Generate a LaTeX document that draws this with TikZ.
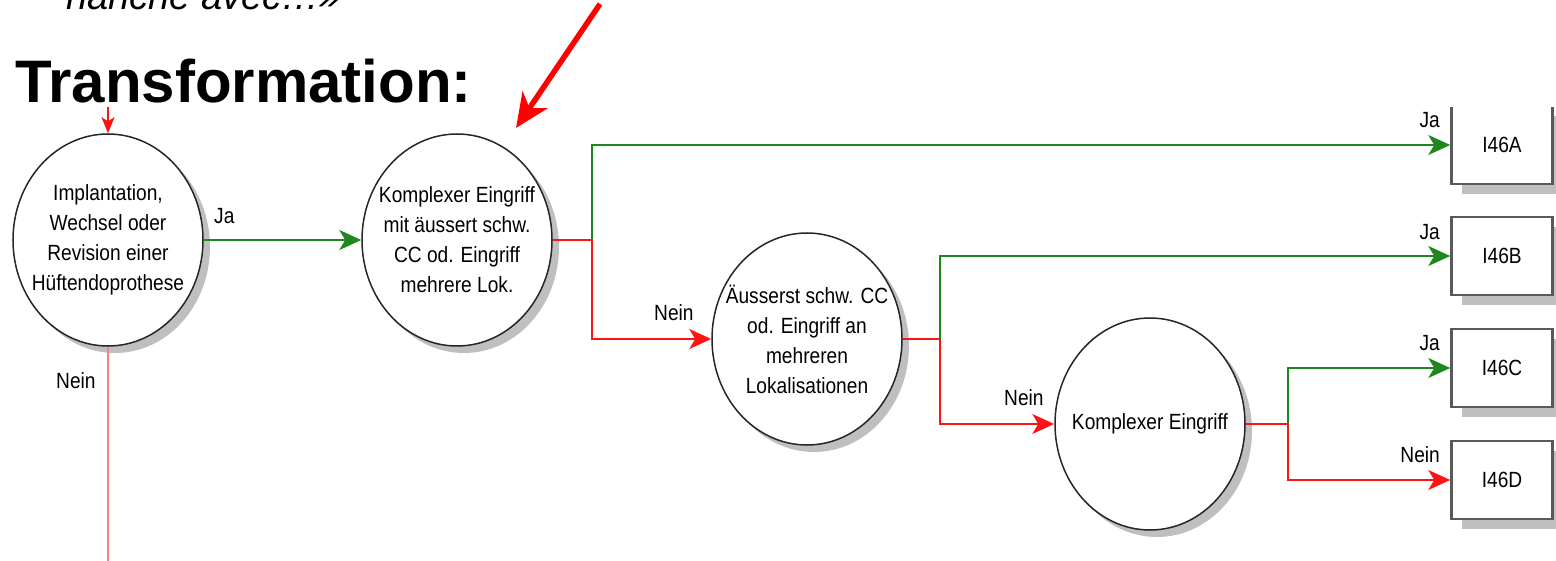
\documentclass[tikz,border=0pt]{standalone}
\usepackage{fontspec}
\setmainfont{Liberation Sans}
\newfontfamily\flowfont[FakeStretch=0.87]{Liberation Sans}
\usetikzlibrary{arrows.meta,shadows,shapes.geometric}

\definecolor{flowgreen}{RGB}{30,135,30}
\definecolor{flowred}{RGB}{255,20,20}
\definecolor{softred}{RGB}{255,125,125}
\definecolor{boxedge}{RGB}{90,90,90}

\begin{document}
\begin{tikzpicture}[x=1pt,y=-1pt,
  decision/.style={ellipse, draw=black!85, line width=1.5pt, fill=white,
    minimum width=190pt, minimum height=212pt, inner sep=-30pt, align=center,
    font=\flowfont\fontsize{22}{30}\selectfont,
    drop shadow={shadow xshift=7pt, shadow yshift=-7pt, fill=black!25, opacity=1}},
  result/.style={rectangle, draw=boxedge, line width=2.5pt, fill=white,
    minimum width=101pt, minimum height=78pt, inner sep=0pt,
    font=\flowfont\fontsize{22}{26}\selectfont,
    drop shadow={shadow xshift=10pt, shadow yshift=-10pt, fill=black!25, opacity=1}},
  tip/.style={-{Stealth[length=22pt,width=20pt,inset=6pt]}},
  yes/.style={draw=flowgreen, line width=1.8pt},
  no/.style={draw=flowred, line width=1.8pt},
  lbl/.style={font=\flowfont\fontsize{22}{26}\selectfont, inner sep=0pt},
]
\useasboundingbox (0,0) rectangle (1556,561);

% ---------- flow chart ----------
\begin{scope}
\clip (0,108) rectangle (1556,561);

\node[decision] (c1) at (108,240) {Implantation,\\Wechsel oder\\Revision einer\\Hüftendoprothese};
\node[decision] (c2) at (457,240) {Komplexer Eingriff\\mit äussert schw.\\CC od. Eingriff\\mehrere Lok.};
\node[decision] (c3) at (807,339) {Äusserst schw. CC\\od. Eingriff an\\mehreren\\Lokalisationen};
\node[decision] (c4) at (1150,424) {Komplexer Eingriff};

\node[result] (A) at (1502,145) {I46A};
\node[result] (B) at (1502,256) {I46B};
\node[result] (C) at (1502,368) {I46C};
\node[result] (D) at (1502,480) {I46D};

% junctions of the branches
\coordinate (j2) at (592,240);
\coordinate (j3) at (940,339);
\coordinate (j4) at (1288,424);
\coordinate (top) at (108,104);
\coordinate (bottom) at (108,565);

% incoming arrow and the "Nein" exit of the first decision
\draw[draw=flowred, line width=1.6pt, -{Stealth[length=16pt,width=13pt,inset=4pt]}] (top) -- (c1.north);
\draw[draw=softred, line width=2.2pt] (c1.south) -- (bottom);

\draw[yes, tip] (c1.east) -- (c2.west);

\draw[no] (c2.east) -- (j2);
\draw[yes, tip] (j2) |- (A.west);
\draw[no, tip] (j2) |- (c3.west);

\draw[no] (c3.east) -- (j3);
\draw[yes, tip] (j3) |- (B.west);
\draw[no, tip] (j3) |- (c4.west);

\draw[no] (c4.east) -- (j4);
\draw[yes, tip] (j4) |- (C.west);
\draw[no, tip] (j4) |- (D.west);

% branch labels
\node[lbl, anchor=west] (l1) at (214,216) {Ja};
\node[lbl, anchor=west] (l2) at (56,381) {Nein};
\node[lbl, anchor=west] (l3) at (654,313) {Nein};
\node[lbl, anchor=west] (l4) at (1004,398) {Nein};
\node[lbl, anchor=east] (l5) at (1440,120) {Ja};
\node[lbl, anchor=east] (l6) at (1440,232) {Ja};
\node[lbl, anchor=east] (l7) at (1440,343) {Ja};
\node[lbl, anchor=east] (l8) at (1440,455) {Nein};
\end{scope}

% ---------- heading and pointer ----------
\begin{scope}
\clip (0,0) rectangle (1556,561);
\node[anchor=base west, inner sep=0pt, font=\itshape\fontsize{38}{42}\selectfont] (quote) at (66,10) {hanche avec…»};
\end{scope}
\node[anchor=base west, inner sep=0pt, font=\bfseries\fontsize{60}{66}\selectfont] (title) at (15,103) {Transformation:};

\coordinate (ptail) at (600,4);
\coordinate (phead) at (516,128);
\draw[draw=red, line width=5.5pt, -{Stealth[length=34pt,width=30pt,inset=10pt]}] (ptail) -- (phead);
\end{tikzpicture}
\end{document}
